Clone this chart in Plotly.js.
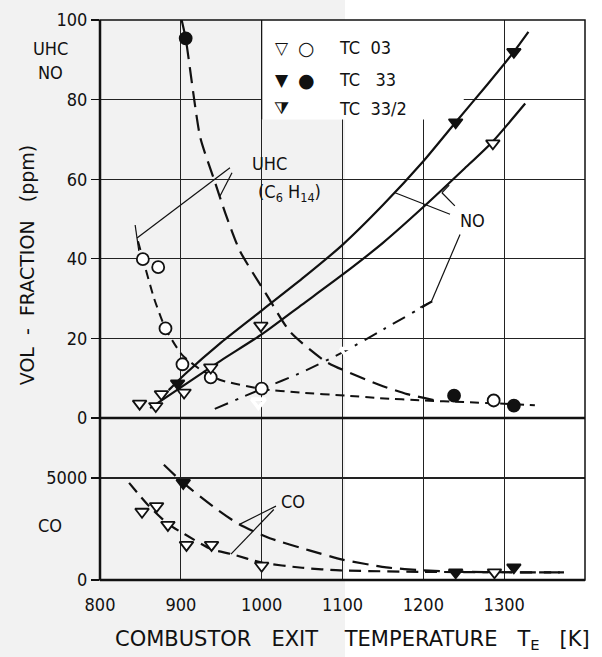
<!DOCTYPE html>
<html><head><meta charset="utf-8">
<script src="https://cdn.plot.ly/plotly-3.0.1.min.js"></script>
<style>html,body{margin:0;padding:0;background:#fff}#chart{width:602px;height:657px}</style>
</head><body><div id="chart"></div>
<script>
// ---- measured points (upper panel: UHC / NO in ppm, lower panel: CO in ppm) ----
const uhcTC03_T = [853, 872, 881, 902, 937, 1000, 1287];
const uhcTC03_ppm = [39.9, 37.9, 22.5, 13.5, 10.2, 7.4, 4.4];
const uhcTC33_T = [906, 1238, 1312];
const uhcTC33_ppm = [95.4, 5.6, 3.1];
const noTC03_T = [849, 869, 876, 904, 937, 999, 1286];
const noTC03_ppm = [3.6, 3.0, 6.0, 6.4, 12.7, 23.2, 69];
const noTC33_T = [896, 1240, 1312];
const noTC33_ppm = [8.7, 74.3, 92];
const noTC332_T = [996, 1106];
const noTC332_ppm = [4.0, 16.7];
const coTC03_T = [852, 870, 884, 907, 938, 1000, 1288];
const coTC03_ppm = [3345, 3620, 2700, 1720, 1720, 700, 375];
const coTC33_T = [903, 1240, 1312];
const coTC33_ppm = [4760, 375, 620];

// ---- hand-drawn trend curves ----
const uhcCurve03_T = [847, 853, 867, 881, 901, 924, 948, 1000, 1047, 1106, 1146, 1200, 1250, 1300, 1338];
const uhcCurve03_ppm = [44.4, 40, 30, 22.5, 16, 12.2, 9.6, 7.3, 6.4, 5.6, 5.0, 4.4, 4.0, 3.6, 3.2];
const uhcCurve33_T = [901, 906, 924, 941, 955, 973, 1006, 1035, 1080, 1146, 1180, 1215];
const uhcCurve33_ppm = [100, 95.4, 70.5, 60, 51.5, 42, 31, 21.7, 14.1, 8.3, 6.0, 4.4];
const noCurve03_T = [862, 906, 950, 1000, 1050, 1100, 1150, 1200, 1250, 1286, 1326];
const noCurve03_ppm = [2.5, 8.5, 14.5, 21, 28.5, 36, 44, 53, 62.5, 69.5, 79];
const noCurve33_T = [885, 905, 950, 1000, 1050, 1100, 1150, 1200, 1240, 1280, 1312, 1330];
const noCurve33_ppm = [7, 11, 19, 27, 35, 43.5, 53.5, 64.5, 74.3, 84, 92, 97];
const noCurve332_T = [942, 1000, 1050, 1100, 1150, 1211];
const noCurve332_ppm = [2.3, 7.3, 11.5, 16.5, 22.2, 29.3];
const coCurve33_T = [879, 903, 940, 972, 1010, 1059, 1100, 1154, 1200, 1250, 1300, 1374];
const coCurve33_ppm = [5650, 4760, 3600, 2730, 2050, 1450, 1000, 620, 470, 400, 380, 375];
const coCurve03_T = [836, 860, 884, 905, 938, 963, 1000, 1050, 1097, 1200, 1300, 1374];
const coCurve03_ppm = [4760, 3650, 2750, 2240, 1500, 1270, 850, 600, 470, 400, 380, 375];

// ---- axis ticks ----
const xTicks = [800, 900, 1000, 1100, 1200, 1300, 1400];
const yUpperTicks = [0, 20, 40, 60, 80, 100];
const yLowerTicks = [0, 5000];

const INK = '#111';
const FONT = 'DejaVu Sans Condensed, DejaVu Sans, Arial';
const WFONT = 'DejaVu Sans, Arial';

function curve(x, y, yaxis, dash, w) {
  return {x: x, y: y, xaxis: 'x', yaxis: yaxis, mode: 'lines', type: 'scatter', line: {color: INK, width: w || 2, dash: dash, shape: 'spline', smoothing: 0.6}, showlegend: false, hoverinfo: 'skip'};
}
function pts(x, y, yaxis, symbol, filled, lw) {
  return {x: x, y: y, xaxis: 'x', yaxis: yaxis, mode: 'markers', type: 'scatter', showlegend: false,
    marker: {symbol: symbol, size: 12, color: filled ? INK : '#fff', line: {color: INK, width: lw || 1.8}}};
}

const traces = [
  curve(uhcCurve03_T, uhcCurve03_ppm, 'y2', '9px,6px', 2),
  curve(uhcCurve33_T, uhcCurve33_ppm, 'y2', '16px,8px', 2.2),
  curve(noCurve03_T, noCurve03_ppm, 'y2', 'solid', 2.2),
  curve(noCurve33_T, noCurve33_ppm, 'y2', 'solid', 2.2),
  curve(noCurve332_T, noCurve332_ppm, 'y2', '14px,8px,3px,8px', 2),
  curve(coCurve33_T, coCurve33_ppm, 'y', '16px,8px', 2.2),
  curve(coCurve03_T, coCurve03_ppm, 'y', '12px,7px', 2.2),
  pts(uhcTC03_T, uhcTC03_ppm, 'y2', 'circle', false),
  pts(uhcTC33_T, uhcTC33_ppm, 'y2', 'circle', true),
  pts(noTC03_T, noTC03_ppm, 'y2', 'triangle-down', false),
  pts(noTC33_T, noTC33_ppm, 'y2', 'triangle-down', true),
  pts(noTC332_T, noTC332_ppm, 'y2', 'triangle-down-open', false, 3.6),
  pts(coTC03_T, coTC03_ppm, 'y', 'triangle-down', false),
  pts(coTC33_T, coTC33_ppm, 'y', 'triangle-down', true)
];

const SPLIT = 162 / 560;
function seg(x0, y0, x1, y1, yref, w) {
  return {type: 'line', xref: 'x', yref: yref, x0: x0, y0: y0, x1: x1, y1: y1, line: {color: INK, width: w || 1.2}, layer: 'above'};
}
const shapes = [
  {type: 'rect', xref: 'paper', yref: 'paper', x0: -100/485, x1: 245/485, y0: -77/560, y1: 580/560, fillcolor: '#f2f2f2', line: {width: 0}, layer: 'below'},
  {type: 'rect', xref: 'x', yref: 'y2', x0: 1000, x1: 1250, y0: 75, y1: 100, fillcolor: '#fff', line: {width: 0}, layer: 'between'},
  {type: 'line', xref: 'x', yref: 'y2', x0: 1000, x1: 1000, y0: 75, y1: 100, line: {color: INK, width: 1.2}, layer: 'between'},
  {type: 'rect', xref: 'paper', yref: 'paper', x0: 0, x1: 1, y0: 0, y1: 1, line: {color: INK, width: 1.5}, layer: 'above'},
  {type: 'line', xref: 'paper', yref: 'paper', x0: 0, x1: 1, y0: SPLIT, y1: SPLIT, line: {color: INK, width: 2.5}, layer: 'above'},
  {type: 'line', xref: 'paper', yref: 'paper', x0: 0, x1: 1, y0: 0, y1: 0, line: {color: INK, width: 2.5}, layer: 'above'},
  {type: 'line', xref: 'paper', yref: 'paper', x0: 0, x1: 0, y0: 0, y1: 1, line: {color: INK, width: 2.5}, layer: 'above'},
  // UHC leaders
  seg(960.8, 62.9, 845.8, 45.2, 'y2'),
  seg(843.5, 48.5, 848, 42, 'y2'),
  seg(963.3, 61.6, 948.5, 55.8, 'y2'),
  // NO leaders
  seg(1233, 51.2, 1165, 56.6, 'y2'),
  seg(1239, 53.3, 1223, 56.6, 'y2'),
  seg(1223, 56.6, 1232, 58.5, 'y2'),
  seg(1245.4, 46.1, 1210, 29.3, 'y2'),
  seg(1210, 29.3, 1196, 27.8, 'y2'),
  // CO leaders
  seg(1017.7, 3622, 972.6, 2726, 'y'),
  seg(1015, 3457, 962, 1266, 'y')
];

function ann(x, y, text, xref, yref, opts) {
  return Object.assign({x: x, y: y, xref: xref, yref: yref, text: text, showarrow: false,
    xanchor: 'center', yanchor: 'middle',
    font: {family: FONT, size: 18, color: INK}}, opts || {});
}
const NB = '\u00a0';
const annotations = [
  ann(-0.103, 0.95, 'UHC', 'paper', 'paper'),
  ann(-0.103, 0.907, 'NO', 'paper', 'paper'),
  ann(-0.103, 0.098, 'CO', 'paper', 'paper'),
  ann(-0.1505, 0.562, 'VOL' + NB + NB + '-' + NB + NB + 'FRACTION' + NB + NB + NB + '(ppm)', 'paper', 'paper', {textangle: -90, font: {family: WFONT, size: 19, color: INK}}),
  ann(0.52, -0.107, 'COMBUSTOR' + NB + NB + NB + 'EXIT' + NB + NB + NB + NB + 'TEMPERATURE' + NB + NB + NB + 'T<sub>E</sub>' + NB + NB + NB + '[K]', 'paper', 'paper', {font: {family: WFONT, size: 21, color: INK}}),
  ann(985, 64, 'UHC', 'x', 'y2', {xanchor: 'left'}),
  ann(1035, 56.6, '(C<sub>6</sub>' + NB + 'H<sub>14</sub>)', 'x', 'y2'),
  ann(1261, 49.7, 'NO', 'x', 'y2'),
  ann(1039, 3866, 'CO', 'x', 'y'),
  // legend
  ann(1025, 93, '\u25BD', 'x', 'y2', {font: {family: WFONT, size: 17, color: INK}}),
  ann(1056, 93, '\u25CB', 'x', 'y2', {font: {family: WFONT, size: 19, color: INK}}),
  ann(1093, 93, 'TC' + NB + NB + '03', 'x', 'y2', {xanchor: 'left'}),
  ann(1025, 85, '\u25BC', 'x', 'y2', {font: {family: WFONT, size: 17, color: INK}}),
  ann(1056, 85, '\u25CF', 'x', 'y2', {font: {family: WFONT, size: 19, color: INK}}),
  ann(1093, 85, 'TC' + NB + NB + NB + '33', 'x', 'y2', {xanchor: 'left'}),
  ann(1025, 77.8, '\u29E9', 'x', 'y2', {font: {family: WFONT, size: 17, color: INK}}),
  ann(1093, 77.8, 'TC' + NB + NB + '33/2', 'x', 'y2', {xanchor: 'left'})
];

const layout = {
  width: 602, height: 657,
  margin: {l: 100, r: 17, t: 20, b: 77},
  paper_bgcolor: '#fff', plot_bgcolor: 'rgba(0,0,0,0)',
  showlegend: false,
  font: {family: FONT, size: 18, color: INK},
  xaxis: {range: [800, 1400], tickvals: xTicks, ticktext: xTicks.map(String), showgrid: true, gridcolor: '#222', gridwidth: 1.1,
    zeroline: false, showline: false, ticks: '', anchor: 'y', ticklabelstandoff: 12, tickfont: {family: FONT, size: 18, color: INK}},
  yaxis: {domain: [0, SPLIT], range: [0, 5000 * 162 / 102], tickvals: yLowerTicks, ticktext: yLowerTicks.map(String),
    showgrid: true, gridcolor: '#222', gridwidth: 1.1, zeroline: false, ticks: 'outside', ticklen: 8, tickwidth: 1.2, tickcolor: INK,
    anchor: 'x', tickfont: {family: FONT, size: 18, color: INK}},
  yaxis2: {domain: [SPLIT, 1], range: [0, 100], tickvals: yUpperTicks, ticktext: yUpperTicks.map(String),
    showgrid: true, gridcolor: '#222', gridwidth: 1.1, zeroline: false, ticks: 'outside', ticklen: 8, tickwidth: 1.2, tickcolor: INK,
    anchor: 'x', tickfont: {family: FONT, size: 18, color: INK}},
  shapes: shapes,
  annotations: annotations
};

Plotly.newPlot('chart', traces, layout, {staticPlot: true, displayModeBar: false});
</script>
</body></html>
